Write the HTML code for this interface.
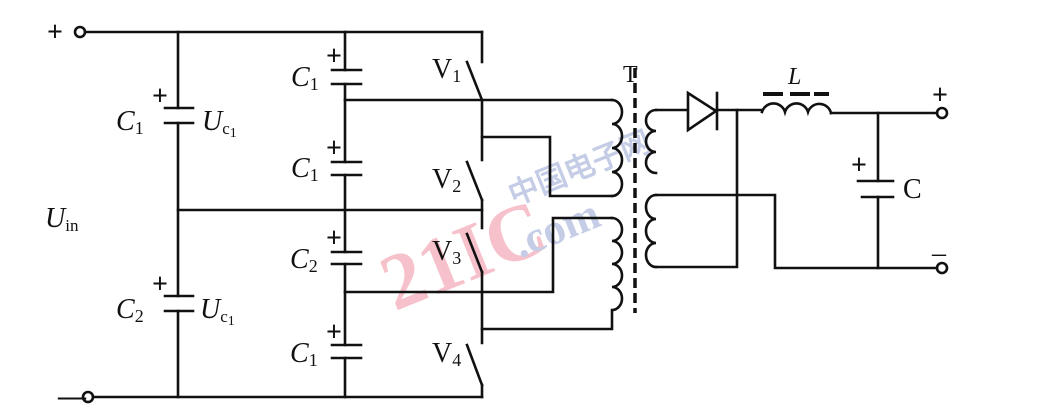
<!DOCTYPE html>
<html><head><meta charset="utf-8"><style>
html,body{margin:0;padding:0;background:#fff;}
svg{display:block;}
text{font-family:"Liberation Serif",serif;fill:#111;}
.i{font-style:italic;}
</style></head><body>
<svg width="1041" height="417" viewBox="0 0 1041 417" xmlns="http://www.w3.org/2000/svg">
<!-- watermark -->
<g opacity="0.35">
<text x="375" y="290" transform="rotate(-22 440 250)" font-family="Liberation Sans,sans-serif" font-weight="bold" font-size="80" style="fill:#e8506a">21IC</text>
<text x="500" y="185" transform="rotate(-22 560 160)" font-family="Noto Sans CJK SC,sans-serif" font-weight="bold" font-size="30" style="fill:#5a6fb8">中国电子网</text>
<text x="505" y="240" transform="rotate(-22 560 210)" font-family="Liberation Sans,sans-serif" font-weight="bold" font-size="44" style="fill:#5a6fb8">.com</text>
</g>
<g stroke="#111" stroke-width="2.6" fill="none" stroke-linecap="square">
<circle cx="80" cy="32" r="5"/>
<circle cx="88" cy="397" r="5"/>
<line x1="85" y1="32" x2="482" y2="32"/>
<line x1="93" y1="397" x2="482" y2="397"/>
<line x1="178" y1="32" x2="178" y2="108"/>
<line x1="178" y1="123" x2="178" y2="296"/>
<line x1="178" y1="311" x2="178" y2="397"/>
<line x1="165" y1="108" x2="193" y2="108"/>
<line x1="165" y1="123" x2="193" y2="123"/>
<line x1="165" y1="296" x2="193" y2="296"/>
<line x1="165" y1="311" x2="193" y2="311"/>
<line x1="178" y1="210" x2="482" y2="210"/>
<line x1="345" y1="32" x2="345" y2="70"/>
<line x1="345" y1="84" x2="345" y2="162"/>
<line x1="345" y1="175" x2="345" y2="252"/>
<line x1="345" y1="264" x2="345" y2="345"/>
<line x1="345" y1="358" x2="345" y2="397"/>
<line x1="332" y1="70" x2="361" y2="70"/><line x1="332" y1="84" x2="361" y2="84"/>
<line x1="332" y1="162" x2="361" y2="162"/><line x1="332" y1="175" x2="361" y2="175"/>
<line x1="332" y1="252" x2="361" y2="252"/><line x1="332" y1="264" x2="361" y2="264"/>
<line x1="332" y1="345" x2="361" y2="345"/><line x1="332" y1="358" x2="361" y2="358"/>
<line x1="482" y1="32" x2="482" y2="62"/>
<line x1="467" y1="62" x2="482" y2="100"/>
<line x1="482" y1="100" x2="482" y2="160"/>
<line x1="467" y1="162" x2="482" y2="200"/>
<line x1="482" y1="200" x2="482" y2="228"/>
<line x1="467" y1="234" x2="482" y2="272"/>
<line x1="482" y1="272" x2="482" y2="343"/>
<line x1="467" y1="345" x2="482" y2="385"/>
<line x1="482" y1="385" x2="482" y2="397"/>
<line x1="345" y1="100" x2="612" y2="100"/>
<polyline points="482,137 550,137 550,196 612,196"/>
<polyline points="345,292 553,292 553,218 612,218"/>
<polyline points="482,329 612,329 612,312"/>
<path d="M612 100 a10 12 0 0 1 0 24 a10 12 0 0 1 0 24 a10 12 0 0 1 0 24 a10 12 0 0 1 0 24"/>
<path d="M612 218 a10 11.5 0 0 1 0 23 a10 11.5 0 0 1 0 23 a10 11.5 0 0 1 0 23 a10 11.5 0 0 1 0 23"/>
<line x1="635" y1="68" x2="635" y2="313" stroke-width="3.5" stroke-dasharray="10 5" stroke-linecap="butt"/>
<path d="M656 110 a10 10.5 0 0 0 0 21 a10 10.5 0 0 0 0 21 a10 10.5 0 0 0 0 21"/>
<path d="M656 195 a10 12 0 0 0 0 24 a10 12 0 0 0 0 24 a10 12 0 0 0 0 24"/>
<line x1="656" y1="110" x2="762" y2="110"/>
<polyline points="656,195 775,195 775,268 937,268"/>
<polyline points="656,267 737,267 737,110"/>
<polygon points="688,93 688,130 716,111" fill="#fff"/>
<line x1="717" y1="93" x2="717" y2="129"/>
<path d="M762 112 a12 12 0 0 1 23 0 a12 12 0 0 1 23 0 a12 12 0 0 1 23 1"/>
<line x1="831" y1="113" x2="937" y2="113"/>
<circle cx="942" cy="113" r="5"/>
<circle cx="942" cy="268" r="5"/>
<line x1="878" y1="113" x2="878" y2="181"/>
<line x1="878" y1="197" x2="878" y2="268"/>
<line x1="858" y1="181" x2="893" y2="181"/>
<line x1="862" y1="197" x2="893" y2="197"/>
</g>
<g stroke="#111" stroke-width="4">
<line x1="763" y1="94" x2="783" y2="94"/>
<line x1="790" y1="94" x2="810" y2="94"/>
<line x1="814" y1="94" x2="829" y2="94"/>
</g>
<g font-size="28" font-weight="bold">
<text x="47" y="41">+</text>
<text x="58" y="405">—</text>
<text x="152" y="105">+</text>
<text x="152" y="293">+</text>
<text x="326" y="65">+</text>
<text x="326" y="157">+</text>
<text x="326" y="247">+</text>
<text x="326" y="341">+</text>
<text x="851" y="174">+</text>
<text x="932" y="104">+</text>
<text x="932" y="262" font-weight="normal">–</text>
</g>
<g font-size="28">
<text class="i" x="116" y="130">C<tspan font-size="18" font-style="normal" dy="4">1</tspan></text>
<text class="i" x="116" y="318">C<tspan font-size="18" font-style="normal" dy="4">2</tspan></text>
<text class="i" x="202" y="130">U<tspan font-size="17" font-style="normal" dy="4">c</tspan><tspan font-size="14" font-style="normal" dy="3">1</tspan></text>
<text class="i" x="200" y="318">U<tspan font-size="17" font-style="normal" dy="4">c</tspan><tspan font-size="14" font-style="normal" dy="3">1</tspan></text>
<text class="i" x="45" y="227">U<tspan font-size="17" font-style="normal" dy="4">in</tspan></text>
<text class="i" x="291" y="86">C<tspan font-size="18" font-style="normal" dy="4">1</tspan></text>
<text class="i" x="291" y="177">C<tspan font-size="18" font-style="normal" dy="4">1</tspan></text>
<text class="i" x="290" y="268">C<tspan font-size="18" font-style="normal" dy="4">2</tspan></text>
<text class="i" x="290" y="362">C<tspan font-size="18" font-style="normal" dy="4">1</tspan></text>
<text x="432" y="78">V<tspan font-size="18" dy="4">1</tspan></text>
<text x="432" y="188">V<tspan font-size="18" dy="4">2</tspan></text>
<text x="432" y="260">V<tspan font-size="18" dy="4">3</tspan></text>
<text x="432" y="362">V<tspan font-size="18" dy="4">4</tspan></text>
<text x="623" y="82" font-size="24">T</text>
<text class="i" x="788" y="84" font-size="24">L</text>
<text x="903" y="198">C</text>
</g>
</svg>
</body></html>
